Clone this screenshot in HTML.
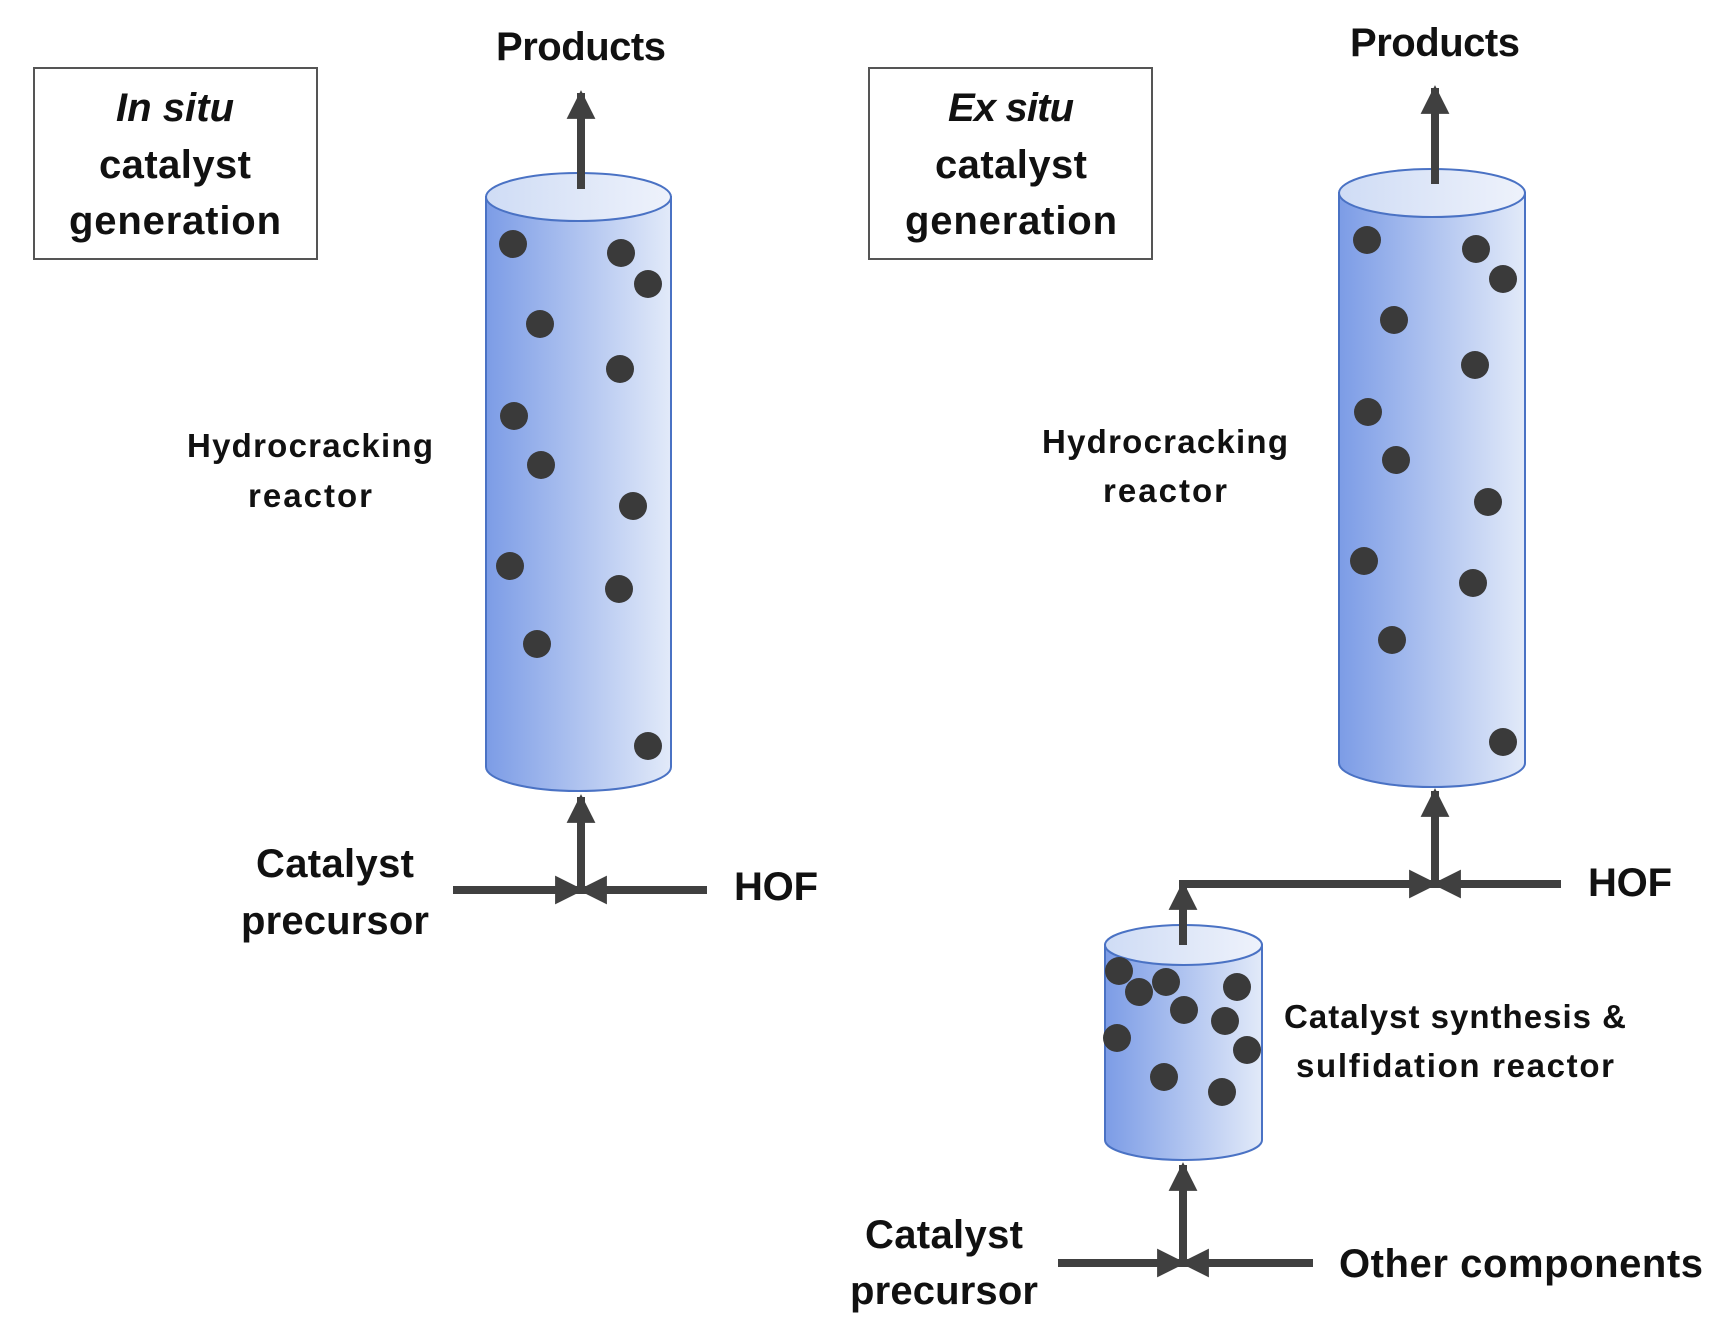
<!DOCTYPE html>
<html><head><meta charset="utf-8"><style>html,body{margin:0;padding:0;background:#fff}svg{display:block}</style></head>
<body>
<svg width="1715" height="1344" viewBox="0 0 1715 1344" xmlns="http://www.w3.org/2000/svg" font-family="Liberation Sans, sans-serif" font-weight="bold" fill="#111">
<defs>
<linearGradient id="g" x1="0" x2="1" y1="0" y2="0"><stop offset="0" stop-color="#7c9ce6"/><stop offset="1" stop-color="#e2eaf9"/></linearGradient>
<linearGradient id="t" x1="0" x2="1"><stop offset="0" stop-color="#cfdcf5"/><stop offset="1" stop-color="#eef2fb"/></linearGradient>
<marker id="a" viewBox="0 0 10 10" refX="9" refY="5" markerWidth="3.6" markerHeight="3.8" orient="auto" markerUnits="strokeWidth"><path d="M0,0L10,5L0,10z" fill="#404040"/></marker>
</defs>
<g fill="#fff" stroke="#555" stroke-width="2">
<rect x="34" y="68" width="283" height="191"/><rect x="869" y="68" width="283" height="191"/></g>
<g font-size="40" text-anchor="middle">
<text x="175" y="121" font-style="italic" textLength="118">In situ</text>
<text x="175" y="178" textLength="152">catalyst</text>
<text x="175" y="234" textLength="212">generation</text>
<text x="1011" y="121" font-style="italic" textLength="126">Ex situ</text>
<text x="1011" y="178" textLength="152">catalyst</text>
<text x="1011" y="234" textLength="212">generation</text>
<text x="581" y="60" textLength="170">Products</text>
<text x="1435" y="56" textLength="170">Products</text>
<text x="335" y="877" textLength="158">Catalyst</text>
<text x="335" y="934" textLength="188">precursor</text>
<text x="776" y="900" textLength="84">HOF</text>
<text x="1630" y="896" textLength="84">HOF</text>
<text x="944" y="1248" textLength="158">Catalyst</text>
<text x="944" y="1304" textLength="188">precursor</text>
<text x="1521" y="1277" textLength="364">Other components</text>
</g>
<g font-size="33" text-anchor="middle">
<text x="310" y="457" textLength="246">Hydrocracking</text>
<text x="310" y="507" textLength="124">reactor</text>
<text x="1165" y="453" textLength="246">Hydrocracking</text>
<text x="1165" y="502" textLength="124">reactor</text>
<text x="1455" y="1028" textLength="342">Catalyst synthesis &amp;</text>
<text x="1455" y="1077" textLength="318">sulfidation reactor</text>
</g>
<!-- cylinders -->
<g stroke="#4a72c4" stroke-width="2">
<path d="M486,197 V767 A92.5,24 0 0 0 671,767 V197 Z" fill="url(#g)"/>
<ellipse cx="578.5" cy="197" rx="92.5" ry="24" fill="url(#t)"/>
<path d="M1339,193 V763 A93,24 0 0 0 1525,763 V193 Z" fill="url(#g)"/>
<ellipse cx="1432" cy="193" rx="93" ry="24" fill="url(#t)"/>
<path d="M1105,945 V1140 A78.5,20 0 0 0 1262,1140 V945 Z" fill="url(#g)"/>
<ellipse cx="1183.5" cy="945" rx="78.5" ry="20" fill="url(#t)"/>
</g>
<g fill="#3a3a3a">
<circle cx="513" cy="244" r="14"/><circle cx="621" cy="253" r="14"/><circle cx="648" cy="284" r="14"/><circle cx="540" cy="324" r="14"/><circle cx="620" cy="369" r="14"/><circle cx="514" cy="416" r="14"/><circle cx="541" cy="465" r="14"/><circle cx="633" cy="506" r="14"/><circle cx="510" cy="566" r="14"/><circle cx="619" cy="589" r="14"/><circle cx="537" cy="644" r="14"/><circle cx="648" cy="746" r="14"/>
<circle cx="1367" cy="240" r="14"/><circle cx="1476" cy="249" r="14"/><circle cx="1503" cy="279" r="14"/><circle cx="1394" cy="320" r="14"/><circle cx="1475" cy="365" r="14"/><circle cx="1368" cy="412" r="14"/><circle cx="1396" cy="460" r="14"/><circle cx="1488" cy="502" r="14"/><circle cx="1364" cy="561" r="14"/><circle cx="1473" cy="583" r="14"/><circle cx="1392" cy="640" r="14"/><circle cx="1503" cy="742" r="14"/>
<circle cx="1119" cy="971" r="14"/><circle cx="1139" cy="992" r="14"/><circle cx="1166" cy="982" r="14"/><circle cx="1237" cy="987" r="14"/><circle cx="1184" cy="1010" r="14"/><circle cx="1225" cy="1021" r="14"/><circle cx="1117" cy="1038" r="14"/><circle cx="1247" cy="1050" r="14"/><circle cx="1164" cy="1077" r="14"/><circle cx="1222" cy="1092" r="14"/>
</g>
<!-- arrows -->
<g stroke="#404040" stroke-width="8" fill="none" marker-end="url(#a)">
<line x1="581" y1="189" x2="581" y2="93"/>
<line x1="581" y1="890" x2="581" y2="797"/>
<line x1="453" y1="890" x2="581" y2="890"/>
<line x1="707" y1="890" x2="581" y2="890"/>
<line x1="1435" y1="184" x2="1435" y2="88"/>
<line x1="1435" y1="886" x2="1435" y2="791"/>
<line x1="1561" y1="884" x2="1435" y2="884"/>
<polyline points="1183,884 1435,884" />
<line x1="1183" y1="945" x2="1183" y2="884"/>
<line x1="1183" y1="1263" x2="1183" y2="1165"/>
<line x1="1058" y1="1263" x2="1183" y2="1263"/>
<line x1="1313" y1="1263" x2="1183" y2="1263"/>
</g>
<line x1="1179" y1="884" x2="1300" y2="884" stroke="#404040" stroke-width="8"/>
</svg>
</body></html>
